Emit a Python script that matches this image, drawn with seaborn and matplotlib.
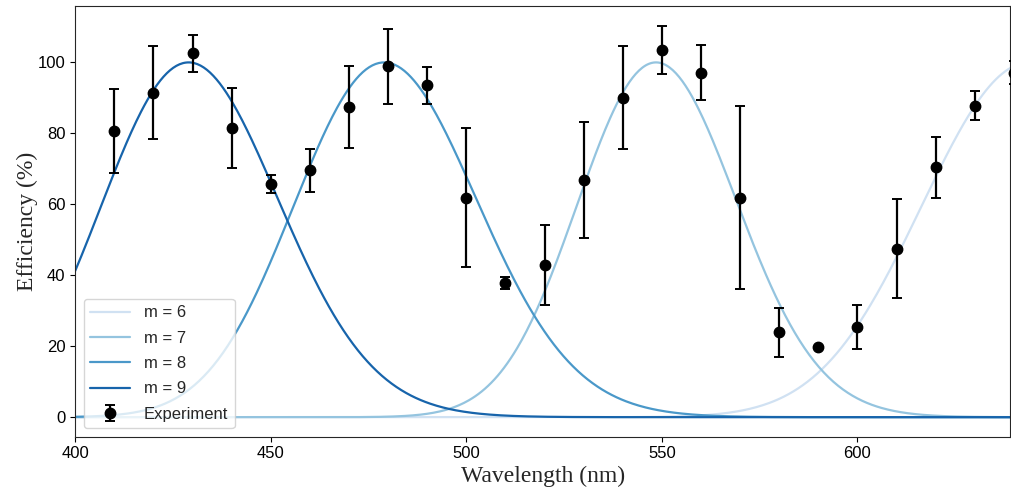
import numpy as np
import pandas as pd
import matplotlib
matplotlib.use('Agg')
import matplotlib.pyplot as plt
import seaborn as sns

wl_exp = [410, 420, 430, 440, 450, 460, 470, 480, 490, 500, 510, 520,
          530, 540, 550, 560, 570, 580, 590, 600, 610, 620, 630, 640]
eff_exp = [80.7, 91.5, 102.6, 81.6, 65.8, 69.6, 87.4, 98.9, 93.5, 61.8, 37.8, 43.0,
           66.8, 90.1, 103.6, 97.1, 61.9, 24.0, 19.8, 25.4, 47.5, 70.5, 87.8, 97.1]
err_exp = [11.9, 13.0, 5.2, 11.3, 2.5, 6.0, 11.6, 10.5, 5.2, 19.6, 1.8, 11.3,
           16.3, 14.4, 6.8, 7.8, 25.7, 6.9, 0.0, 6.1, 13.9, 8.6, 4.1, 3.3]

# Theory envelopes for each diffraction order: peak wavelength and (log) width
orders = [6, 7, 8, 9]
peak_nm = [644.0, 548.5, 479.0, 429.0]
log_width = [0.043, 0.037, 0.0487, 0.0526]

wl = np.linspace(400, 646, 600)
rows = []
for m, p, w in zip(orders, peak_nm, log_width):
    eff = 100 * np.exp(-np.log(wl / p) ** 2 / (2 * w ** 2))
    rows.append(pd.DataFrame({'wl': wl, 'eff': eff, 'order': f'm = {m}'}))
df = pd.concat(rows, ignore_index=True)

sns.set_style('ticks')
plt.rcParams['font.family'] = ['Liberation Sans', 'DejaVu Sans']

fig = plt.figure(figsize=(10.11, 4.95), dpi=100)
ax = fig.add_axes([0.0744, 0.1178, 0.9246, 0.8701])

pal = sns.color_palette('Blues', 4)
sns.lineplot(data=df, x='wl', y='eff', hue='order', palette=pal, linewidth=1.6, ax=ax)

ax.errorbar(wl_exp, eff_exp, yerr=err_exp, fmt='o', color='black', markersize=7.5,
            elinewidth=1.6, capsize=3.5, capthick=1.4, label='Experiment', zorder=5)

ax.set_xlim(400, 639)
ax.set_ylim(-5.5, 115.9)
ax.set_xticks([400, 450, 500, 550, 600])
ax.set_yticks([0, 20, 40, 60, 80, 100])
ax.tick_params(labelsize=12, colors='black')

ax.set_xlabel('Wavelength (nm)', fontsize=17, family='Liberation Serif', labelpad=3)
ax.set_ylabel('Efficiency (%)', fontsize=17, family='Liberation Serif', labelpad=0)

handles, labels = ax.get_legend_handles_labels()
ax.legend(handles, labels, loc='lower left', fontsize=12, handlelength=2.4,
          labelspacing=0.62)

plt.savefig('out.png', dpi=100)
